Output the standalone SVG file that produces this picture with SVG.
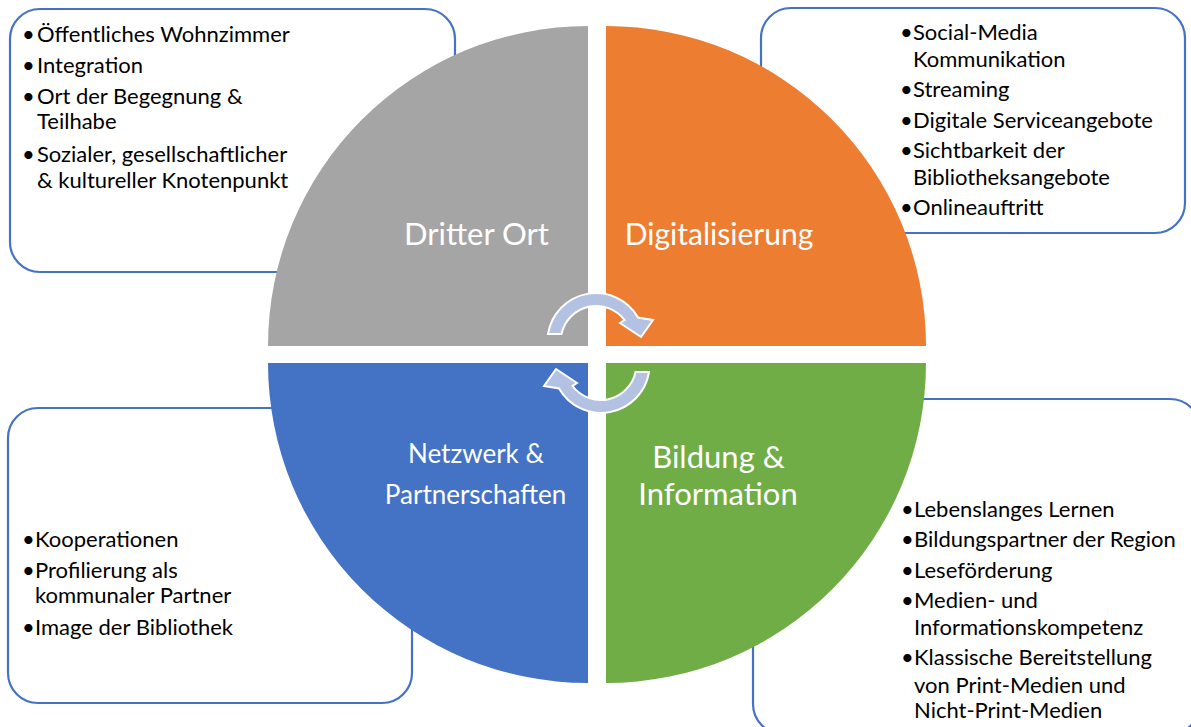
<svg xmlns="http://www.w3.org/2000/svg" width="1191" height="727" viewBox="0 0 1191 727">
<style>
.box{fill:#fff;stroke:#4472C4;stroke-width:2.2}
.t{font-family:Lato,"Liberation Sans",sans-serif;font-size:22px;fill:#000}
.lbl{font-family:Lato,"Liberation Sans",sans-serif;fill:#fff;text-anchor:middle}
.arr{fill:#B3C2E2;stroke:#fff;stroke-width:2}
</style>
<rect width="1191" height="727" fill="#fff"/>
<g id="box-dritter-ort">
<rect class="box" x="10" y="9" width="445" height="263" rx="30"/>
<text class="t"><tspan x="22" y="42">•</tspan><tspan x="37" y="42">Öffentliches Wohnzimmer</tspan></text>
<text class="t"><tspan x="22" y="73">•</tspan><tspan x="37" y="73">Integration</tspan></text>
<text class="t"><tspan x="22" y="104">•</tspan><tspan x="37" y="104">Ort der Begegnung &amp;</tspan></text>
<text class="t"><tspan x="37" y="129">Teilhabe</tspan></text>
<text class="t"><tspan x="22" y="162">•</tspan><tspan x="37" y="162">Sozialer, gesellschaftlicher</tspan></text>
<text class="t"><tspan x="37" y="188">&amp; kultureller Knotenpunkt</tspan></text>
</g>
<g id="box-digitalisierung">
<rect class="box" x="761" y="8" width="424" height="225" rx="30"/>
<text class="t"><tspan x="900" y="40">•</tspan><tspan x="913" y="40">Social-Media</tspan></text>
<text class="t"><tspan x="913" y="67">Kommunikation</tspan></text>
<text class="t"><tspan x="900" y="97">•</tspan><tspan x="913" y="97">Streaming</tspan></text>
<text class="t"><tspan x="900" y="128">•</tspan><tspan x="913" y="128">Digitale Serviceangebote</tspan></text>
<text class="t"><tspan x="900" y="158">•</tspan><tspan x="913" y="158">Sichtbarkeit der</tspan></text>
<text class="t"><tspan x="913" y="185">Bibliotheksangebote</tspan></text>
<text class="t"><tspan x="900" y="215">•</tspan><tspan x="913" y="215">Onlineauftritt</tspan></text>
</g>
<g id="box-netzwerk">
<rect class="box" x="8" y="408" width="404" height="295" rx="30"/>
<text class="t"><tspan x="22" y="547">•</tspan><tspan x="35" y="547">Kooperationen</tspan></text>
<text class="t"><tspan x="22" y="578">•</tspan><tspan x="35" y="578">Profilierung als</tspan></text>
<text class="t"><tspan x="35" y="603">kommunaler Partner</tspan></text>
<text class="t"><tspan x="22" y="635">•</tspan><tspan x="35" y="635">Image der Bibliothek</tspan></text>
</g>
<g id="box-bildung">
<rect class="box" x="753" y="399" width="447" height="335" rx="30"/>
<text class="t"><tspan x="901" y="517">•</tspan><tspan x="914" y="517">Lebenslanges Lernen</tspan></text>
<text class="t"><tspan x="901" y="547">•</tspan><tspan x="914" y="547">Bildungspartner der Region</tspan></text>
<text class="t"><tspan x="901" y="578">•</tspan><tspan x="914" y="578">Leseförderung</tspan></text>
<text class="t"><tspan x="901" y="608">•</tspan><tspan x="914" y="608">Medien- und</tspan></text>
<text class="t"><tspan x="914" y="635">Informationskompetenz</tspan></text>
<text class="t"><tspan x="901" y="665">•</tspan><tspan x="914" y="665">Klassische Bereitstellung</tspan></text>
<text class="t"><tspan x="914" y="693">von Print-Medien und</tspan></text>
<text class="t"><tspan x="914" y="718">Nicht-Print-Medien</tspan></text>
</g>
<g id="q-dritter-ort">
<path d="M588 346 L268 346 A320 320 0 0 1 588 26 Z" fill="#A5A5A5"/>
<text class="lbl" x="476.5" y="245" font-size="31">Dritter Ort</text>
</g>
<g id="q-digitalisierung">
<path d="M606 346 L606 26 A320 320 0 0 1 926 346 Z" fill="#ED7D31"/>
<text class="lbl" x="719" y="245" font-size="30">Digitalisierung</text>
</g>
<g id="q-bildung">
<path d="M606 363 L926 363 A320 320 0 0 1 606 683 Z" fill="#70AD47"/>
<text class="lbl" x="718.5" y="468" font-size="31">Bildung &amp;</text>
<text class="lbl" x="718" y="505" font-size="31">Information</text>
</g>
<g id="q-netzwerk">
<path d="M588 363 L588 683 A320 320 0 0 1 268 363 Z" fill="#4472C4"/>
<text class="lbl" x="476" y="463" font-size="26">Netzwerk &amp;</text>
<text class="lbl" x="475.5" y="504" font-size="26">Partnerschaften</text>
</g>
<g id="connectors">
<path id="arrow-top" class="arr" d="M548 334 A48.5 48.5 0 0 1 638 317.5 L653 320 L641 337 L620 323 L624.5 320 A35.5 35.5 0 0 0 561.5 334 Z"/>
<path id="arrow-bottom" class="arr" transform="rotate(180 598.5 353)" d="M548 334 A48.5 48.5 0 0 1 638 317.5 L653 320 L641 337 L620 323 L624.5 320 A35.5 35.5 0 0 0 561.5 334 Z"/>
</g>
</svg>
